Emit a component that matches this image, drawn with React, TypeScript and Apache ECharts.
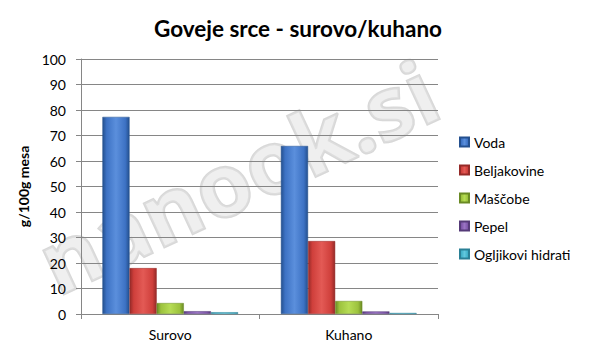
import React, { useEffect, useRef } from "react";
import * as echarts from "echarts";

const categories = ["Surovo", "Kuhano"];
const seriesNames = ["Voda", "Beljakovine", "Maščobe", "Pepel", "Ogljikovi hidrati"];
const voda = [77.3, 65.9];
const beljakovine = [18.0, 28.6];
const mascobe = [4.3, 5.1];
const pepel = [1.1, 1.0];
const ogljikovi = [0.7, 0.4];
const yTicks = [0, 100, 10];

const baseColors = ["#3d72c4", "#cf3f3b", "#9cc23d", "#7d55a8", "#3fb0c8"];
const darkColors = ["#24508f", "#952a28", "#6a8a24", "#553a78", "#2a8096"];
const lightColors = ["#5b8fdc", "#e35a55", "#b6dc55", "#9a74c4", "#62c9de"];

export default function App() {
  const ref = useRef<HTMLDivElement>(null);
  useEffect(() => {
    if (!ref.current) return;
    const chart = echarts.init(ref.current, undefined, { renderer: "svg" });
    const values = [voda, beljakovine, mascobe, pepel, ogljikovi];
    const font = "Lato, 'Open Sans', sans-serif";
    chart.setOption({
      animation: false,
      backgroundColor: "#ffffff",
      textStyle: { fontFamily: font },
      title: {
        text: "Goveje srce - surovo/kuhano",
        left: 293,
        textAlign: "center",
        top: 12,
        textStyle: { fontSize: 22.5, fontWeight: "bold", color: "#000", fontFamily: font },
      },
      graphic: [
        {
          type: "text",
          x: 62,
          y: 306,
          rotation: (25 * Math.PI) / 180,
          z: -10,
          silent: true,
          style: {
            text: "nanook.si",
            font: "bold 88px 'Open Sans', sans-serif",
            verticalAlign: "bottom",
            fill: "rgba(225,225,225,0.55)",
            stroke: "rgba(190,190,190,0.6)",
            lineWidth: 2.5,
          },
        },
      ],
      legend: {
        orient: "vertical",
        left: 459,
        top: 135,
        padding: 0,
        itemWidth: 9,
        itemHeight: 9,
        itemGap: 14,
        icon: "rect",
        textStyle: { fontSize: 14, color: "#000", fontFamily: font },
        data: seriesNames,
      },
      grid: { left: 81, right: 151, top: 59, bottom: 40 },
      xAxis: {
        type: "category",
        data: categories,
        axisLine: { lineStyle: { color: "#868686" } },
        axisTick: { show: true, length: 5, lineStyle: { color: "#868686" } },
        axisLabel: { fontSize: 14, color: "#000", margin: 13, fontFamily: font },
      },
      yAxis: {
        type: "value",
        min: yTicks[0],
        max: yTicks[1],
        interval: yTicks[2],
        name: "g/100g mesa",
        nameLocation: "middle",
        nameGap: 44,
        nameTextStyle: { fontSize: 14, fontWeight: "bold", color: "#000", fontFamily: font },
        axisLine: { show: true, lineStyle: { color: "#868686" } },
        axisTick: { show: true, length: 5, lineStyle: { color: "#868686" } },
        axisLabel: { fontSize: 14, color: "#000", margin: 15, fontFamily: font },
        splitLine: { lineStyle: { color: "#868686" } },
      },
      series: seriesNames.map((name, i) => ({
        name,
        type: "bar",
        data: values[i],
        barGap: "0%",
        barCategoryGap: "24%",
        z: 3,
        itemStyle: {
          color: new echarts.graphic.LinearGradient(0, 0, 1, 0, [
            { offset: 0, color: darkColors[i] },
            { offset: 0.15, color: baseColors[i] },
            { offset: 0.5, color: lightColors[i] },
            { offset: 0.85, color: baseColors[i] },
            { offset: 1, color: darkColors[i] },
          ]),
          borderColor: darkColors[i],
          borderWidth: 0.5,
        },
      })),
    });
    return () => chart.dispose();
  }, []);
  return <div ref={ref} style={{ width: 589, height: 354, position: "absolute", left: 0, top: 0 }} />;
}
